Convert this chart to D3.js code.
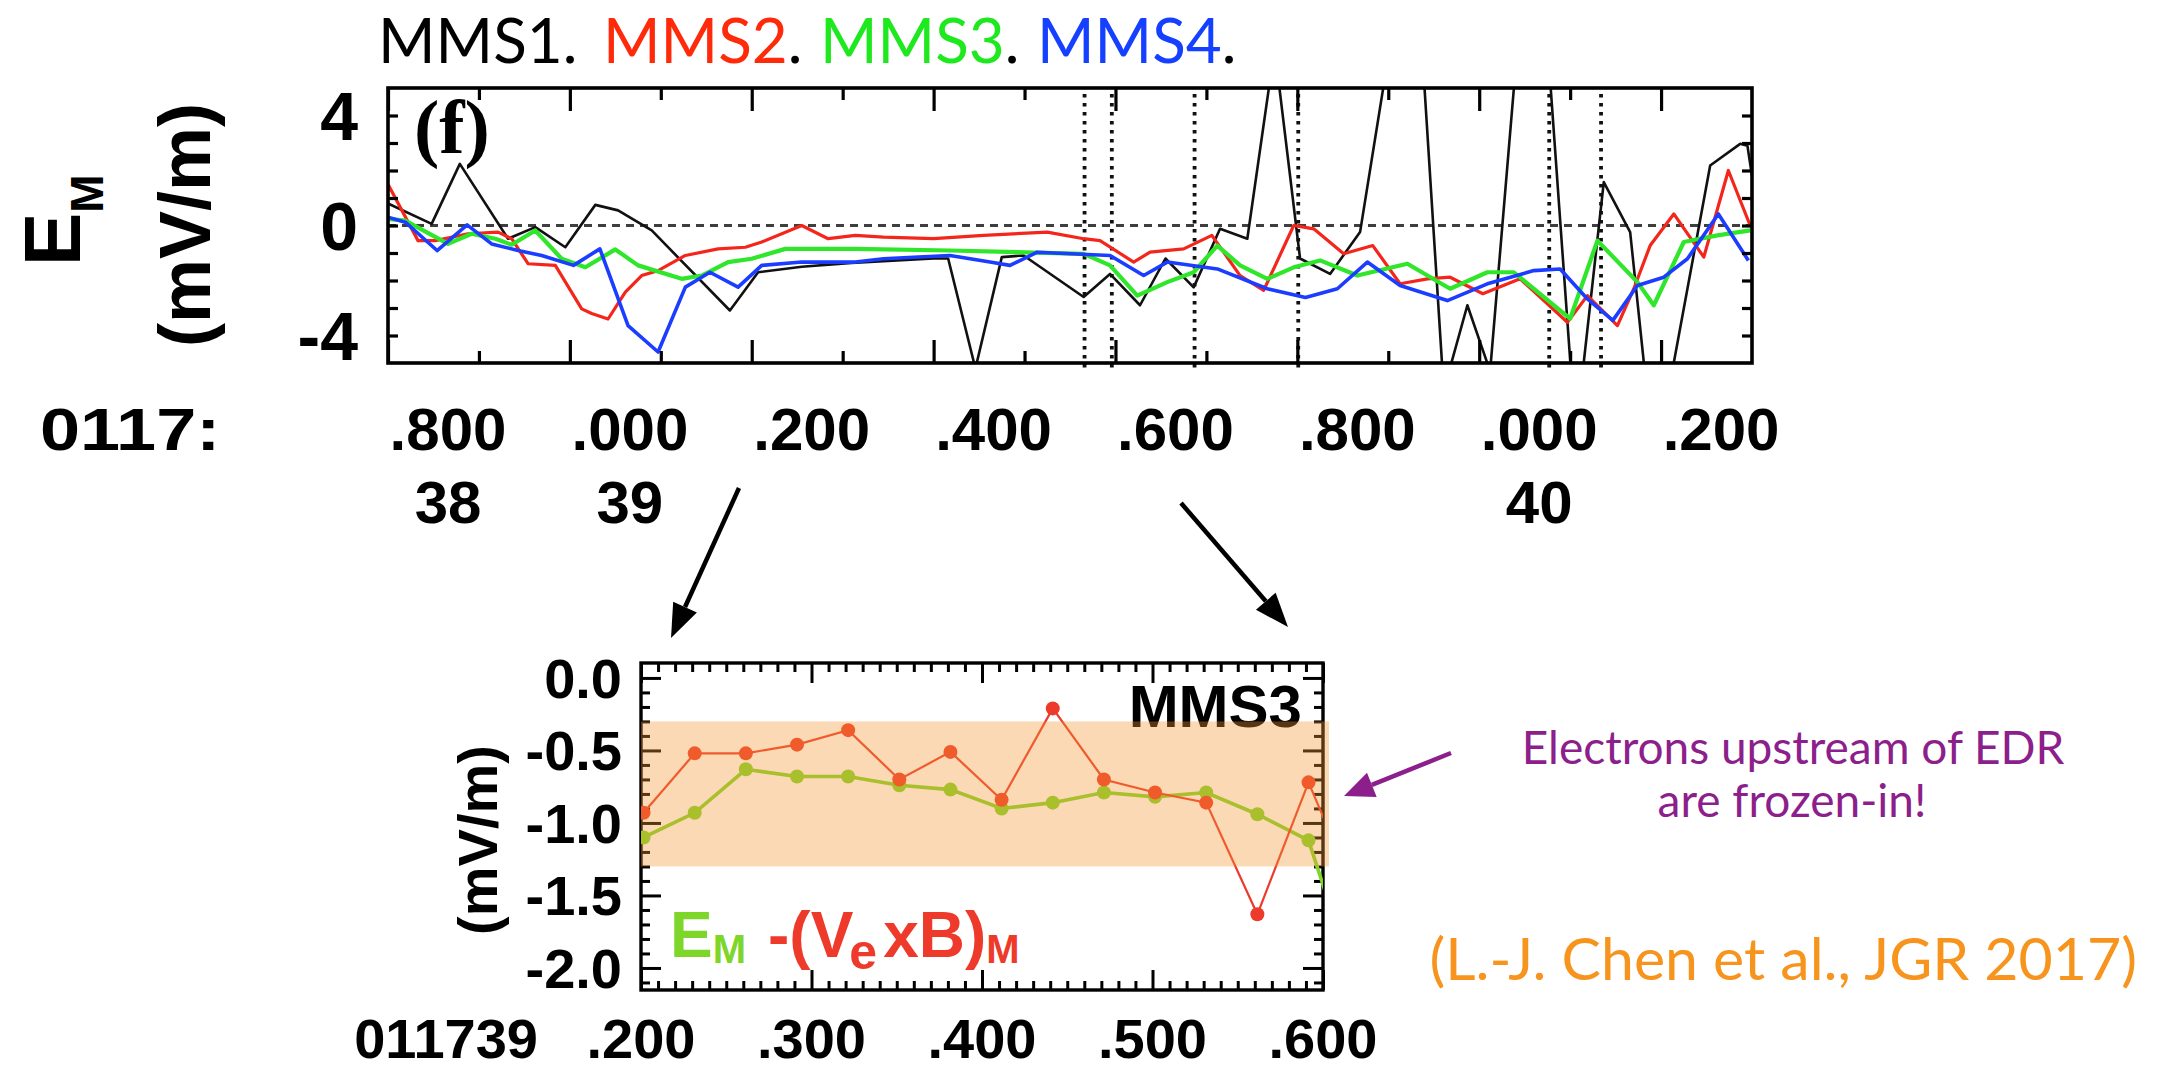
<!DOCTYPE html>
<html>
<head>
<meta charset="utf-8">
<script src="https://cdn.jsdelivr.net/npm/d3@7"></script>
<style>
  html, body { margin: 0; padding: 0; background: #ffffff; }
  svg { display: block; }
</style>
</head>
<body>
<svg id="chart" width="2157" height="1072"></svg>
<script>
// ---------------------------------------------------------------
// Panel (f): E_M (mV/m) from the four MMS spacecraft,
// time in seconds after 01:17:00 UT
// ---------------------------------------------------------------
const mms1Time = [38.800, 38.848, 38.879, 38.932, 38.962, 38.995, 39.028, 39.053, 39.090, 39.176,
                  39.207, 39.255, 39.310, 39.400, 39.416, 39.446, 39.475, 39.499, 39.565, 39.594,
                  39.627, 39.655, 39.686, 39.715, 39.745, 39.775, 39.803, 39.836, 39.869, 39.927,
                  39.961, 39.987, 40.012, 40.060, 40.106, 40.137, 40.166, 40.193, 40.254, 40.287,
                  40.295, 40.300];
const mms1Em   = [0.80, 0.06, 2.24, -0.48, -0.06, -0.79, 0.75, 0.55, -0.18, -3.09,
                  -1.70, -1.50, -1.36, -1.20, -1.20, -5.20, -1.15, -1.09, -2.60, -1.76,
                  -2.90, -1.20, -2.25, -0.12, -0.48, 6.45, -1.20, -1.76, -0.24, 11.7,
                  -6.00, -2.90, -5.30, 13.6, -7.65, 1.58, -0.24, -8.75, 2.18, 2.97,
                  2.90, 1.80];

const mms2Time = [38.800, 38.833, 38.852, 38.888, 38.921, 38.936, 38.954, 38.984, 39.013, 39.024,
                  39.042, 39.061, 39.079, 39.097, 39.127, 39.163, 39.193, 39.211, 39.255, 39.284,
                  39.314, 39.345, 39.400, 39.455, 39.525, 39.565, 39.583, 39.620, 39.638, 39.675,
                  39.706, 39.737, 39.763, 39.796, 39.807, 39.818, 39.851, 39.883, 39.913, 39.943,
                  39.968, 40.004, 40.045, 40.097, 40.119, 40.152, 40.170, 40.188, 40.214, 40.247,
                  40.274, 40.298];
const mms2Em   = [1.50, -0.55, -0.55, -0.30, -0.24, -0.48, -1.39, -1.45, -3.03, -3.20,
                  -3.40, -2.42, -1.82, -1.64, -1.09, -0.85, -0.79, -0.60, 0.00, -0.48,
                  -0.36, -0.42, -0.48, -0.36, -0.24, -0.48, -0.55, -1.33, -0.97, -0.85,
                  -0.36, -1.82, -2.36, 0.00, -0.06, -0.12, -1.03, -0.73, -2.12, -1.94,
                  -1.88, -2.48, -1.94, -3.52, -2.55, -3.64, -2.30, -0.73, 0.42, -1.15,
                  2.00, 0.00];

const mms3Time = [38.800, 38.819, 38.866, 38.892, 38.918, 38.936, 38.962, 38.991, 39.017, 39.050,
                  39.075, 39.123, 39.145, 39.174, 39.200, 39.237, 39.314, 39.418, 39.565, 39.594,
                  39.624, 39.657, 39.686, 39.712, 39.737, 39.767, 39.796, 39.825, 39.866, 39.921,
                  39.968, 40.009, 40.038, 40.100, 40.130, 40.174, 40.192, 40.225, 40.262, 40.298];
const mms3Em   = [0.24, 0.18, -0.67, -0.30, -0.48, -0.70, -0.18, -1.21, -1.52, -0.87,
                  -1.45, -1.94, -1.82, -1.33, -1.21, -0.85, -0.85, -0.91, -1.03, -1.45,
                  -2.55, -2.06, -1.70, -0.73, -1.45, -1.94, -1.52, -1.27, -1.82, -1.39,
                  -2.30, -1.70, -1.70, -3.39, -0.55, -2.06, -2.90, -0.60, -0.36, -0.18];

const mms4Time = [38.800, 38.819, 38.854, 38.887, 38.914, 38.943, 38.969, 39.004, 39.033, 39.064,
                  39.097, 39.127, 39.154, 39.185, 39.211, 39.255, 39.314, 39.345, 39.418, 39.462,
                  39.484, 39.514, 39.594, 39.631, 39.657, 39.712, 39.767, 39.809, 39.844, 39.877,
                  39.913, 39.965, 40.009, 40.060, 40.089, 40.119, 40.147, 40.174, 40.203, 40.229,
                  40.263, 40.296];
const mms4Em   = [0.30, 0.12, -0.91, 0.02, -0.67, -0.91, -1.09, -1.45, -0.85, -3.64,
                  -4.60, -2.24, -1.70, -2.24, -1.45, -1.33, -1.33, -1.21, -1.09, -1.33,
                  -1.45, -0.97, -1.09, -1.82, -1.33, -1.58, -2.30, -2.62, -2.30, -1.33,
                  -2.18, -2.73, -2.12, -1.64, -1.58, -2.67, -3.45, -2.18, -1.88, -1.21,
                  0.42, -1.27];

const spacecraftNames  = ["MMS1", "MMS2", "MMS3", "MMS4"];
const spacecraftColors = ["#111111", "#f4261c", "#2fe62a", "#1b3dff"];
const titleColors      = ["#000000", "#ff2a0a", "#1ee81e", "#1640ff"];

// vertical markers (dotted lines) in panel (f)
const markerTimes = [39.566, 39.596, 39.687, 39.801, 40.077, 40.134];

// time axis of panel (f)
const overviewMajorTimes = [38.8, 39.0, 39.2, 39.4, 39.6, 39.8, 40.0, 40.2];
const overviewMinorTimes = [38.9, 39.1, 39.3, 39.5, 39.7, 39.9, 40.1];
const overviewTickLabels = [".800", ".000", ".200", ".400", ".600", ".800", ".000", ".200"];
const overviewMinuteLabels = ["38", "39", "", "", "", "", "40", ""];
const overviewYLabels = [4, 0, -4];

// ---------------------------------------------------------------
// Zoomed MMS3 panel: E_M and -(Ve x B)_M, 01:17:39.2 - 39.6
// ---------------------------------------------------------------
const zoomTime = [39.2015, 39.2315, 39.2615, 39.2915, 39.3215, 39.3515, 39.3815, 39.4115,
                  39.4415, 39.4715, 39.5015, 39.5315, 39.5615, 39.5915, 39.6215];
const zoomEm   = [-1.10, -0.93, -0.63, -0.68, -0.68, -0.74, -0.77, -0.90,
                  -0.86, -0.79, -0.82, -0.79, -0.94, -1.12, -2.20];
const zoomVexB = [-0.93, -0.52, -0.52, -0.46, -0.36, -0.70, -0.51, -0.84,
                  -0.21, -0.70, -0.79, -0.86, -1.63, -0.72, -1.55];
const zoomMajorTimes = [39.2, 39.3, 39.4, 39.5, 39.6];
const zoomTickLabels = [".200", ".300", ".400", ".500", ".600"];
const zoomYLabels = [0.0, -0.5, -1.0, -1.5, -2.0];
const frozenInBand = [-0.30, -1.30];

// ---------------------------------------------------------------
const svg = d3.select("#chart");
const BOLD = "'Liberation Sans', Arial, Helvetica, sans-serif";
const HUMAN = "Lato, 'Open Sans', sans-serif";

// ---------- title line: spacecraft names ----------
const titleX = [378, 603, 820, 1037];
spacecraftNames.forEach((n, i) => {
  const t = svg.append("text")
    .attr("x", titleX[i]).attr("y", 63)
    .attr("font-family", HUMAN).attr("font-size", 62);
  t.append("tspan").attr("fill", titleColors[i]).text(n);
  t.append("tspan").attr("fill", "#000").text(".");
});

// ---------- panel (f) ----------
const P1 = { left: 388, right: 1752, top: 88, bottom: 363 };
const x1 = d3.scaleLinear().domain([38.8, 40.3]).range([P1.left, P1.right]);
const y1 = d3.scaleLinear().domain([-5, 5]).range([P1.bottom, P1.top]);

const defs = svg.append("defs");
defs.append("clipPath").attr("id", "clip1")
  .append("rect").attr("x", P1.left).attr("y", P1.top)
  .attr("width", P1.right - P1.left).attr("height", P1.bottom - P1.top);

const g1 = svg.append("g");

// zero reference
g1.append("line")
  .attr("x1", P1.left).attr("x2", P1.right)
  .attr("y1", y1(0)).attr("y2", y1(0))
  .attr("stroke", "#3f3f3f").attr("stroke-width", 2.8)
  .attr("stroke-dasharray", "8,6");

// dotted markers
g1.selectAll("line.marker").data(markerTimes).enter().append("line")
  .attr("class", "marker")
  .attr("x1", d => x1(d)).attr("x2", d => x1(d))
  .attr("y1", P1.top + 6).attr("y2", P1.bottom + 6)
  .attr("stroke", "#111").attr("stroke-width", 3.8)
  .attr("stroke-dasharray", "3.5,5.5");

const line1 = d3.line().x(d => x1(d[0])).y(d => y1(d[1]));
const series = [
  { t: mms1Time, v: mms1Em, w: 2.6 },
  { t: mms2Time, v: mms2Em, w: 3.2 },
  { t: mms3Time, v: mms3Em, w: 4.2 },
  { t: mms4Time, v: mms4Em, w: 3.6 }
];
const lines = g1.append("g").attr("clip-path", "url(#clip1)");
series.forEach((s, i) => {
  lines.append("path")
    .datum(d3.zip(s.t, s.v))
    .attr("d", line1)
    .attr("fill", "none")
    .attr("stroke", spacecraftColors[i])
    .attr("stroke-width", s.w)
    .attr("stroke-linejoin", "round");
});

// inward ticks on all four sides
function innerAxis(g, axis) {
  g.call(axis);
  g.select(".domain").remove();
  g.selectAll("line").attr("stroke", "#000").attr("stroke-width", 3.2);
}
g1.append("g").attr("transform", `translate(0,${P1.bottom})`)
  .call(g => innerAxis(g, d3.axisBottom(x1).tickValues(overviewMajorTimes).tickSize(-23).tickFormat("")));
g1.append("g").attr("transform", `translate(0,${P1.bottom})`)
  .call(g => innerAxis(g, d3.axisBottom(x1).tickValues(overviewMinorTimes).tickSize(-12).tickFormat("")));
g1.append("g").attr("transform", `translate(0,${P1.top})`)
  .call(g => innerAxis(g, d3.axisTop(x1).tickValues(overviewMajorTimes).tickSize(-23).tickFormat("")));
g1.append("g").attr("transform", `translate(0,${P1.top})`)
  .call(g => innerAxis(g, d3.axisTop(x1).tickValues(overviewMinorTimes).tickSize(-12).tickFormat("")));
g1.append("g").attr("transform", `translate(${P1.left},0)`)
  .call(g => innerAxis(g, d3.axisLeft(y1).tickValues(d3.range(-4, 5, 1)).tickSize(-10).tickFormat("")));
g1.append("g").attr("transform", `translate(${P1.right},0)`)
  .call(g => innerAxis(g, d3.axisRight(y1).tickValues(d3.range(-4, 5, 1)).tickSize(-10).tickFormat("")));

g1.append("rect")
  .attr("x", P1.left).attr("y", P1.top)
  .attr("width", P1.right - P1.left).attr("height", P1.bottom - P1.top)
  .attr("fill", "none").attr("stroke", "#000").attr("stroke-width", 3.6);

// panel letter
g1.append("text").attr("x", 414).attr("y", 153)
  .attr("font-family", "'Liberation Serif', 'Times New Roman', serif")
  .attr("font-weight", "bold").attr("font-size", 76).text("(f)");

// y labels
g1.selectAll("text.ylab").data(overviewYLabels).enter().append("text")
  .attr("class", "ylab")
  .attr("x", 358).attr("y", d => y1(d) + 24)
  .attr("text-anchor", "end")
  .attr("font-family", BOLD).attr("font-weight", "bold").attr("font-size", 68)
  .text(d => d);

// y title
const yt = svg.append("text")
  .attr("transform", "translate(80,266) rotate(-90)")
  .attr("font-family", BOLD).attr("font-weight", "bold").attr("font-size", 80);
yt.append("tspan").text("E");
yt.append("tspan").attr("font-size", 46).attr("dy", 23).text("M");
svg.append("text")
  .attr("transform", "translate(210,225) rotate(-90)")
  .attr("text-anchor", "middle")
  .attr("font-family", BOLD).attr("font-weight", "bold").attr("font-size", 72)
  .text("(mV/m)");

// time labels
svg.append("text")
  .attr("transform", "translate(40,450) scale(1.2,1)")
  .attr("font-family", BOLD).attr("font-weight", "bold").attr("font-size", 60)
  .text("0117:");
svg.selectAll("text.xlab").data(overviewMajorTimes).enter().append("text")
  .attr("class", "xlab")
  .attr("x", d => x1(d) + 60).attr("y", 450)
  .attr("text-anchor", "middle")
  .attr("font-family", BOLD).attr("font-weight", "bold").attr("font-size", 60)
  .text((d, i) => overviewTickLabels[i]);
svg.selectAll("text.xmin").data(overviewMajorTimes.filter((d, i) => overviewMinuteLabels[i]))
  .enter().append("text")
  .attr("class", "xmin")
  .attr("x", d => x1(d) + 60).attr("y", 523)
  .attr("text-anchor", "middle")
  .attr("font-family", BOLD).attr("font-weight", "bold").attr("font-size", 60)
  .text(d => overviewMinuteLabels[overviewMajorTimes.indexOf(d)]);

// ---------- zoomed MMS3 panel ----------
const P2 = { left: 641, right: 1323, top: 663, bottom: 990 };
const x2 = d3.scaleLinear().domain([39.2, 39.6]).range([P2.left, P2.right]);
const y2 = d3.scaleLinear().domain([-2.152, 0.103]).range([P2.bottom, P2.top]);

defs.append("clipPath").attr("id", "clip2")
  .append("rect").attr("x", P2.left).attr("y", P2.top)
  .attr("width", P2.right - P2.left).attr("height", P2.bottom - P2.top);

const g2 = svg.append("g");
const tick2 = (g) => { g.select(".domain").remove(); g.selectAll("line").attr("stroke", "#000").attr("stroke-width", 3); };
const minor2x = d3.range(39.21, 39.6, 0.01).filter(t => Math.abs(t * 10 - Math.round(t * 10)) > 1e-6);
const minor2y = d3.range(-2.1, 0.1, 0.1).filter(v => Math.abs(v * 2 - Math.round(v * 2)) > 1e-6);
g2.append("g").attr("transform", `translate(0,${P2.bottom})`).call(d3.axisBottom(x2).tickValues(zoomMajorTimes).tickSize(-20).tickFormat("")).call(tick2);
g2.append("g").attr("transform", `translate(0,${P2.bottom})`).call(d3.axisBottom(x2).tickValues(minor2x).tickSize(-9).tickFormat("")).call(tick2);
g2.append("g").attr("transform", `translate(0,${P2.top})`).call(d3.axisTop(x2).tickValues(zoomMajorTimes).tickSize(-20).tickFormat("")).call(tick2);
g2.append("g").attr("transform", `translate(0,${P2.top})`).call(d3.axisTop(x2).tickValues(minor2x).tickSize(-9).tickFormat("")).call(tick2);
g2.append("g").attr("transform", `translate(${P2.left},0)`).call(d3.axisLeft(y2).tickValues(zoomYLabels).tickSize(-20).tickFormat("")).call(tick2);
g2.append("g").attr("transform", `translate(${P2.left},0)`).call(d3.axisLeft(y2).tickValues(minor2y).tickSize(-9).tickFormat("")).call(tick2);
g2.append("g").attr("transform", `translate(${P2.right},0)`).call(d3.axisRight(y2).tickValues(zoomYLabels).tickSize(-20).tickFormat("")).call(tick2);
g2.append("g").attr("transform", `translate(${P2.right},0)`).call(d3.axisRight(y2).tickValues(minor2y).tickSize(-9).tickFormat("")).call(tick2);

g2.append("rect")
  .attr("x", P2.left).attr("y", P2.top)
  .attr("width", P2.right - P2.left).attr("height", P2.bottom - P2.top)
  .attr("fill", "none").attr("stroke", "#000").attr("stroke-width", 3.4);

g2.append("text").attr("x", 1302).attr("y", 727)
  .attr("text-anchor", "end")
  .attr("font-family", BOLD).attr("font-weight", "bold").attr("font-size", 60)
  .text("MMS3");

const zoomGreen = "#7fd62a", zoomRed = "#ee3a2a";
const line2 = d3.line().x(d => x2(d[0])).y(d => y2(d[1]));
const pts = g2.append("g").attr("clip-path", "url(#clip2)");
[[zoomEm, zoomGreen, 3.6], [zoomVexB, zoomRed, 2.2]].forEach(([vals, col, w]) => {
  const data = d3.zip(zoomTime, vals);
  pts.append("path").datum(data).attr("d", line2)
    .attr("fill", "none").attr("stroke", col).attr("stroke-width", w);
  pts.selectAll(null).data(data).enter().append("circle")
    .attr("cx", d => x2(d[0])).attr("cy", d => y2(d[1])).attr("r", 7)
    .attr("fill", col);
});

// frozen-in range highlight
g2.append("rect")
  .attr("x", P2.left).attr("width", P2.right - P2.left + 6)
  .attr("y", y2(frozenInBand[0])).attr("height", y2(frozenInBand[1]) - y2(frozenInBand[0]))
  .attr("fill", "rgb(245,150,50)").attr("fill-opacity", 0.36);

// legend
const leg = g2.append("text").attr("x", 670).attr("y", 957)
  .attr("font-family", BOLD).attr("font-weight", "bold").attr("font-size", 64);
leg.append("tspan").attr("fill", zoomGreen).text("E");
leg.append("tspan").attr("fill", zoomGreen).attr("font-size", 40).attr("dy", 6).text("M");
leg.append("tspan").attr("fill", zoomRed).attr("dx", 22).attr("dy", -6).text("-(V");
leg.append("tspan").attr("fill", zoomRed).attr("font-size", 50).attr("dy", 12).attr("dx", -4).text("e");
leg.append("tspan").attr("fill", zoomRed).attr("dy", -12).attr("dx", 6).text("xB)");
leg.append("tspan").attr("fill", zoomRed).attr("font-size", 40).attr("dy", 6).text("M");

// y labels
svg.selectAll("text.ylab2").data(zoomYLabels).enter().append("text")
  .attr("class", "ylab2")
  .attr("x", 622).attr("y", d => y2(d) + 20)
  .attr("text-anchor", "end")
  .attr("font-family", BOLD).attr("font-weight", "bold").attr("font-size", 56)
  .text(d => d.toFixed(1));
svg.append("text")
  .attr("transform", "translate(497,840) rotate(-90)")
  .attr("text-anchor", "middle")
  .attr("font-family", BOLD).attr("font-weight", "bold").attr("font-size", 56)
  .text("(mV/m)");

// time labels
svg.append("text").attr("x", 538).attr("y", 1058)
  .attr("text-anchor", "end")
  .attr("font-family", BOLD).attr("font-weight", "bold").attr("font-size", 56)
  .text("011739");
svg.selectAll("text.xlab2").data(zoomMajorTimes).enter().append("text")
  .attr("class", "xlab2")
  .attr("x", d => x2(d)).attr("y", 1058)
  .attr("text-anchor", "middle")
  .attr("font-family", BOLD).attr("font-weight", "bold").attr("font-size", 56)
  .text((d, i) => zoomTickLabels[i]);

// ---------- annotations ----------
function arrow(xa, ya, xb, yb, color, width, headLen, headW) {
  const a = Math.atan2(yb - ya, xb - xa);
  const bx = xb - headLen * Math.cos(a), by = yb - headLen * Math.sin(a);
  svg.append("line").attr("x1", xa).attr("y1", ya).attr("x2", bx).attr("y2", by)
    .attr("stroke", color).attr("stroke-width", width);
  const px = -Math.sin(a) * headW / 2, py = Math.cos(a) * headW / 2;
  svg.append("polygon")
    .attr("points", `${xb},${yb} ${bx + px},${by + py} ${bx - px},${by - py}`)
    .attr("fill", color);
}
arrow(739, 488, 671, 638, "#000", 4.5, 34, 26);
arrow(1181, 503, 1288, 627, "#000", 4.5, 34, 26);
arrow(1451, 753, 1344, 796, "#8c1f8c", 4.5, 30, 26);

svg.append("text").attr("x", 1793).attr("y", 764)
  .attr("text-anchor", "middle").attr("fill", "#8c1f8c")
  .attr("font-family", HUMAN).attr("font-size", 46)
  .text("Electrons upstream of EDR");
svg.append("text").attr("x", 1792).attr("y", 817)
  .attr("text-anchor", "middle").attr("fill", "#8c1f8c")
  .attr("font-family", HUMAN).attr("font-size", 46)
  .text("are frozen-in!");
svg.append("text").attr("x", 2137).attr("y", 980)
  .attr("text-anchor", "end").attr("fill", "#f7941d")
  .attr("font-family", HUMAN).attr("font-size", 59)
  .text("(L.-J. Chen et al., JGR 2017)");
</script>
</body>
</html>
